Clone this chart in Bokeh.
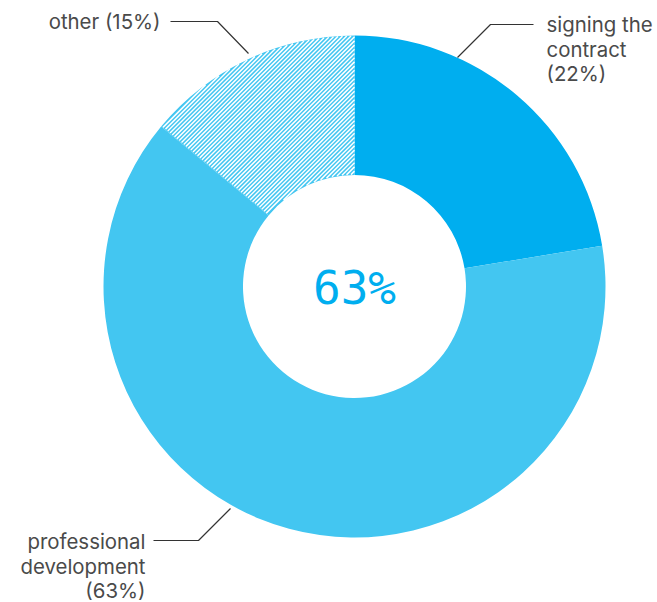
import numpy as np
from bokeh.plotting import figure
from bokeh.models import ColumnDataSource
from bokeh.core.properties import value
from bokeh.embed import file_html
from bokeh.resources import INLINE

# ---- data (slice sizes as drawn; labels as printed) ----
categories = ["signing the contract", "professional development", "other"]
shares = [22.4, 63.6, 14.0]
hatched = [False, False, True]
label_texts = ["signing the\ncontract\n(22%)", "professional\ndevelopment\n(63%)", "other (15%)"]
center_label = "63%"

# ---- styles / layout ----
W, H = 657, 602
colors = ["#00aeef", "#43c6f1", "#43c6f1"]
cx, cy = 354, 286          # pixel coords (y down)
r_in, r_out = 111.5, 251

def Y(y):
    return H - y

p = figure(width=W, height=H, x_range=(0, W), y_range=(0, H),
           output_backend="svg", toolbar_location=None, min_border=0,
           outline_line_color=None, background_fill_color="white")
p.axis.visible = False
p.grid.visible = False

frac = np.cumsum([0] + shares) / sum(shares)
start = np.pi / 2 - frac[:-1] * 2 * np.pi
end = np.pi / 2 - frac[1:] * 2 * np.pi

src = ColumnDataSource(dict(cat=categories, share=shares, start=start, end=end,
                            color=colors))
p.annular_wedge(x=cx, y=Y(cy), inner_radius=r_in, outer_radius=r_out,
                start_angle="start", end_angle="end", direction="clock",
                fill_color="color", line_color=None, source=src)

# hatch stripes ("/") clipped to the hatched wedges
X0, Y0 = cx, Y(cy)
for i, h in enumerate(hatched):
    if not h:
        continue
    a_hi, a_lo = start[i], end[i]
    xs_all, ys_all = [], []
    step = 4.2
    for c in np.arange(-2 * r_out, 2 * r_out, step):
        t = np.arange(-r_out * 1.5, r_out * 1.5, 0.25)
        px = X0 + t
        py = Y0 + t + c
        dx, dy = px - X0, py - Y0
        rr = np.hypot(dx, dy)
        ang = np.arctan2(dy, dx)
        angn = a_lo + np.mod(ang - a_lo, 2 * np.pi)
        inside = (rr >= r_in + 0.3) & (rr <= r_out - 0.3) & (angn <= a_hi - 0.002)
        if not inside.any():
            continue
        idx = np.where(inside)[0]
        splits = np.where(np.diff(idx) > 1)[0] + 1
        for seg in np.split(idx, splits):
            if len(seg) < 2:
                continue
            xs_all.append([px[seg[0]], px[seg[-1]]])
            ys_all.append([py[seg[0]], py[seg[-1]]])
    p.multi_line(xs_all, ys_all, line_color="white", line_width=1.5)

# center label
p.text(x=[cx], y=[Y(287)], text=[center_label], text_align="center",
       text_baseline="middle", text_font=value("DejaVu Sans Mono"),
       text_font_size="46px", text_color="#00aeef")

# leader lines (annotation layout)
leaders = [
    ([533, 490, 457], [24, 24, 57]),
    ([153, 198, 230], [540, 540, 508]),
    ([170, 217, 248], [21, 21, 53]),
]
for xs, ys in leaders:
    p.line(xs, [Y(v) for v in ys], line_color="#333333", line_width=1.2)

# labels (one text per line)
lab_x = [546, 145, 160]
lab_y = [24, 541, 21]
lab_align = ["left", "right", "right"]
line_gap = 24.5
for t, x, y, a in zip(label_texts, lab_x, lab_y, lab_align):
    for k, ln in enumerate(t.split("\n")):
        p.text(x=[x], y=[Y(y + k * line_gap)], text=[ln], text_align=a,
               text_baseline="middle", text_font=value("Inter"),
               text_font_size="20.4px", text_color="#4a4a4a")

open("out.html", "w").write(file_html(p, INLINE))
